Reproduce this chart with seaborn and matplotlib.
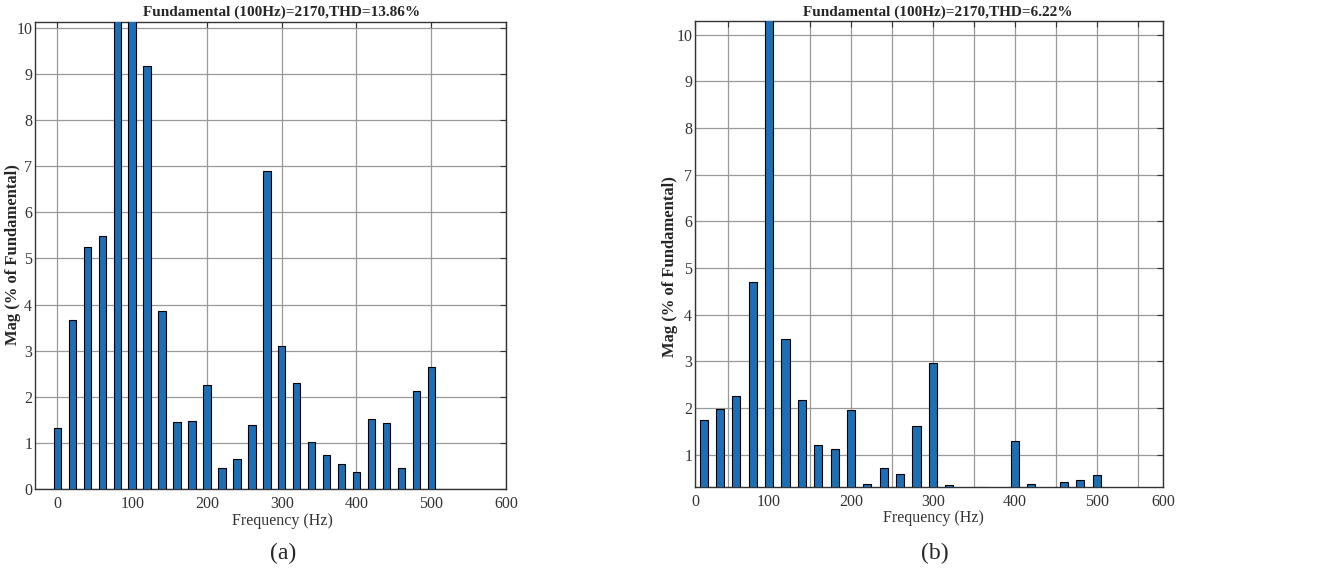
import numpy as np
import pandas as pd
import matplotlib
matplotlib.use("Agg")
import matplotlib.pyplot as plt
import seaborn as sns

# ---------------- data ----------------
freq_a = [0, 20, 40, 60, 80, 100, 120, 140, 160, 180, 200, 220, 240, 260,
          280, 300, 320, 340, 360, 380, 400, 420, 440, 460, 480, 500]
mag_a = [1.33, 3.66, 5.24, 5.48, 14.0, 100.0, 9.17, 3.87, 1.46, 1.48, 2.26,
         0.45, 0.66, 1.38, 6.90, 3.10, 2.31, 1.01, 0.73, 0.55, 0.37, 1.52,
         1.43, 0.45, 2.12, 2.65]

freq_b = [20, 40, 60, 80, 100, 120, 140, 160, 180, 200, 220, 240, 260, 280,
          300, 320, 340, 360, 380, 400, 420, 440, 460, 480, 500]
mag_b = [1.74, 1.97, 2.25, 4.69, 100.0, 3.49, 2.17, 1.20, 1.12, 1.95, 0.38,
         0.71, 0.59, 1.61, 2.96, 0.35, 0.20, 0.32, 0.20, 1.30, 0.38, 0.20,
         0.41, 0.46, 0.57]

title_a = "Fundamental (100Hz)=2170,THD=13.86%"
title_b = "Fundamental (100Hz)=2170,THD=6.22%"
xlabel = "Frequency (Hz)"
ylabel = "Mag (% of Fundamental)"
captions = ["(a)", "(b)"]

# ---------------- style ----------------
sns.set_style("white")
plt.rcParams["font.family"] = ["Liberation Serif", "DejaVu Serif"]

W, H = 1325, 571
fig = plt.figure(figsize=(W / 100, H / 100), dpi=100)

def fx(px):
    return px / W

def fy(py):
    return 1 - py / H

bar_color = "#1c6fb4"
grid_color = "#999999"
text_color = "#333333"

ax_a = fig.add_axes([fx(35), fy(489), fx(506) - fx(35), fy(22) - fy(489)])
ax_b = fig.add_axes([fx(695), fy(487), fx(1163) - fx(695), fy(21) - fy(487)])

df_a = pd.DataFrame({"f": freq_a, "m": mag_a})
df_b = pd.DataFrame({"f": freq_b, "m": mag_b})

for ax, df in ((ax_a, df_a), (ax_b, df_b)):
    sns.barplot(data=df, x="f", y="m", native_scale=True, width=0.5,
                color=bar_color, saturation=1, edgecolor="black",
                linewidth=0.8, ax=ax, zorder=3)
    ax.set_xlabel("")
    ax.set_ylabel("")
    ax.set_axisbelow(True)
    for s in ax.spines.values():
        s.set_visible(True)
        s.set_color("#333333")
        s.set_linewidth(1.0)
    ax.tick_params(axis="both", which="both", direction="in",
                   top=True, right=True, length=4, width=0.8,
                   labelsize=11.5, colors=text_color, labelcolor=text_color)
    ax.tick_params(axis="y", pad=2)
    ax.tick_params(axis="x", pad=5)
    ax.set_facecolor("white")

# panel (a)
ax_a.set_xlim(-30, 600)
ax_a.set_ylim(0, 10.13)
ax_a.set_xticks(np.arange(0, 601, 100))
ax_a.set_xticklabels([str(v) for v in range(0, 601, 100)])
ax_a.set_yticks(np.arange(0, 11, 1))
ax_a.grid(True, which="major", color=grid_color, linewidth=0.9)

# panel (b)
xl0, xl1 = 9.5, 581
ax_b.set_xlim(xl0, xl1)
ax_b.set_ylim(0.31, 10.29)
ax_b.set_xticks([xl0, 100, 200, 300, 400, 500, xl1])
ax_b.set_xticklabels(["0", "100", "200", "300", "400", "500", "600"])
ax_b.set_xticks(np.arange(50, 600, 100), minor=True)
ax_b.set_yticks(np.arange(1, 11, 1))
ax_b.grid(True, which="both", color=grid_color, linewidth=0.9)

# text
fig.text(fx(282), fy(12), title_a, ha="center", va="center",
         fontsize=11, fontweight="bold")
fig.text(fx(938), fy(12), title_b, ha="center", va="center",
         fontsize=11, fontweight="bold")
fig.text(fx(282), fy(521), xlabel, ha="center", va="center", fontsize=11.5,
         color=text_color)
fig.text(fx(933), fy(518), xlabel, ha="center", va="center", fontsize=11.5,
         color=text_color)
fig.text(fx(13), fy(255), ylabel, ha="center", va="center", rotation=90,
         fontsize=12, fontweight="bold")
fig.text(fx(670), fy(267), ylabel, ha="center", va="center", rotation=90,
         fontsize=12, fontweight="bold")
fig.text(fx(283), fy(553), captions[0], ha="center", va="center", fontsize=17)
fig.text(fx(935), fy(553), captions[1], ha="center", va="center", fontsize=17)

fig.savefig("out.png", dpi=100)
